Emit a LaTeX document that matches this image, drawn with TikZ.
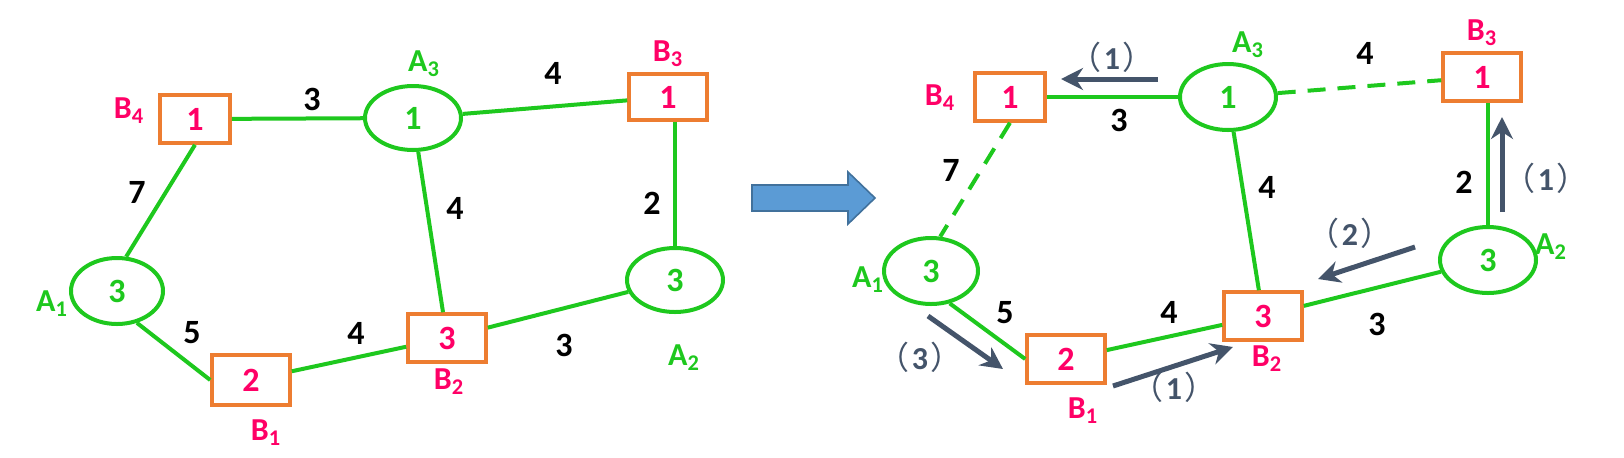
\documentclass[tikz,border=0pt]{standalone}
\usepackage{fontspec}
\setmainfont{Carlito}
\newfontfamily\cjk{Noto Sans CJK SC}
\usepackage{xcolor}
\usetikzlibrary{arrows.meta,shapes.geometric}

\definecolor{nodegreen}{RGB}{30,200,30}
\definecolor{boxorange}{HTML}{ED7D31}
\definecolor{textpink}{HTML}{FF0066}
\definecolor{stepgray}{HTML}{44546A}
\definecolor{arrowblue}{HTML}{5B9BD5}
\definecolor{arrowrim}{HTML}{41719C}

\begin{document}
\begin{tikzpicture}[
  x=0.5pt,y=-0.5pt,
  every node/.style={font=\fontsize{17}{20}\selectfont\bfseries},
  boxnode/.style={draw=boxorange,rectangle,line width=1.8pt,minimum width=39pt,minimum height=24pt,inner sep=0pt,text=textpink},
  ellnode/.style={draw=nodegreen,ellipse,line width=2pt,minimum width=48pt,minimum height=32pt,inner sep=0pt,text=nodegreen},
  alabel/.style={text=nodegreen,font=\fontsize{16}{19}\selectfont\bfseries},
  blabel/.style={text=textpink,font=\fontsize{16}{19}\selectfont\bfseries},
  weight/.style={text=black},
  edge/.style={draw=nodegreen,line width=2pt},
  dashedge/.style={edge,dash pattern=on 9pt off 6pt},
  stepline/.style={-{Stealth[length=11pt,width=11pt]},line width=2.5pt,stepgray},
  steplabel/.style={text=stepgray,font=\fontsize{16}{19}\selectfont\bfseries},
  bigarrow/.style={fill=arrowblue,draw=arrowrim,line width=0.8pt}
]
\useasboundingbox (0,0) rectangle (1624,457);

% left graph
\node[boxnode,minimum width=35pt] (lb4) at (195,119) {1};
\node[ellnode] (la3) at (413,118) {1};
\node[boxnode,minimum height=23pt] (lb3) at (668,97) {1};
\node[ellnode,minimum width=46pt,minimum height=33pt] (la1) at (117,291) {3};
\node[ellnode] (la2) at (675,280) {3};
\node[boxnode] (lb2) at (447,338) {3};
\node[boxnode,minimum height=25pt] (lb1) at (251,380) {2};

\draw[edge] (lb4) -- (la3);
\draw[edge] (la3) -- (lb3);
\draw[edge] (lb3.south -| la2.north) -- (la2.north);
\draw[edge] (la3) -- (lb2);
\draw[edge] (lb4.south) -- (la1.75);
\draw[edge] (la1.-58) -- (lb1.west);
\draw[edge] (lb1) -- (lb2);
\draw[edge] (lb2) -- (la2);

\node[blabel] (tlb4) at (129,111) {B\textsubscript{4}};
\node[alabel] (tla3) at (424,64) {A\textsubscript{3}};
\node[blabel] (tlb3) at (668,54) {B\textsubscript{3}};
\node[alabel] (tla1) at (52,304) {A\textsubscript{1}};
\node[alabel] (tla2) at (684,358) {A\textsubscript{2}};
\node[blabel] (tlb2) at (449,382) {B\textsubscript{2}};
\node[blabel] (tlb1) at (266,433) {B\textsubscript{1}};

\node[weight] (wl1) at (312,99) {3};
\node[weight] (wl2) at (553,73) {4};
\node[weight] (wl3) at (137,192) {7};
\node[weight] (wl4) at (455,208) {4};
\node[weight] (wl5) at (652,203) {2};
\node[weight] (wl6) at (192,333) {5};
\node[weight] (wl7) at (356,333) {4};
\node[weight] (wl8) at (564,345) {3};

% transition arrow
\filldraw[bigarrow] (752,185) -- (848,185) -- (848,172) -- (875,198) -- (848,224) -- (848,211) -- (752,211) -- cycle;

% right graph
\node[boxnode,minimum width=35pt] (rb4) at (1010,97) {1};
\node[ellnode,minimum height=33pt] (ra3) at (1228,97) {1};
\node[boxnode] (rb3) at (1482,77) {1};
\node[ellnode,minimum width=47pt,minimum height=33pt] (ra1) at (931,271) {3};
\node[ellnode,minimum height=33pt] (ra2) at (1488,260) {3};
\node[boxnode] (rb2) at (1263,316) {3};
\node[boxnode] (rb1) at (1066,359) {2};

\draw[edge] (rb4) -- (ra3);
\draw[dashedge] (ra3) -- (rb3);
\draw[edge] (rb3.south -| ra2.north) -- (ra2.north);
\draw[edge] (ra3) -- (rb2);
\draw[dashedge] (rb4.south) -- (ra1.75);
\draw[edge] (ra1.-60) -- (rb1.west);
\draw[edge] (rb1) -- (rb2);
\draw[edge] (rb2) -- (ra2);

\node[blabel] (trb4) at (940,98) {B\textsubscript{4}};
\node[alabel] (tra3) at (1248,45) {A\textsubscript{3}};
\node[blabel] (trb3) at (1482,33) {B\textsubscript{3}};
\node[alabel] (tra1) at (868,280) {A\textsubscript{1}};
\node[alabel] (tra2) at (1551,247) {A\textsubscript{2}};
\node[blabel] (trb2) at (1267,359) {B\textsubscript{2}};
\node[blabel] (trb1) at (1083,411) {B\textsubscript{1}};

\node[weight] (wr1) at (1119,120) {3};
\node[weight] (wr2) at (1365,53) {4};
\node[weight] (wr3) at (951,170) {7};
\node[weight] (wr4) at (1267,187) {4};
\node[weight] (wr5) at (1464,182) {2};
\node[weight] (wr6) at (1005,313) {5};
\node[weight] (wr7) at (1169,312) {4};
\node[weight] (wr8) at (1377,324) {3};

% steps
\coordinate (s1a) at (1158,79);
\coordinate (s1b) at (1061,79);
\coordinate (s2a) at (1502,212);
\coordinate (s2b) at (1502,117);
\coordinate (s3a) at (1415,247);
\coordinate (s3b) at (1318,279);
\coordinate (s4a) at (928,316);
\coordinate (s4b) at (1003,369);
\coordinate (s5a) at (1113,386);
\coordinate (s5b) at (1233,347);
\draw[stepline] (s1a) -- (s1b);
\draw[stepline] (s2a) -- (s2b);
\draw[stepline] (s3a) -- (s3b);
\draw[stepline] (s4a) -- (s4b);
\draw[stepline] (s5a) -- (s5b);

\node[steplabel] (ts1) at (1112,57) {{\cjk\mdseries（}\kern1pt 1\kern1pt{\cjk\mdseries）}};
\node[steplabel] (ts2) at (1546,178) {{\cjk\mdseries（}\kern1pt 1\kern1pt{\cjk\mdseries）}};
\node[steplabel] (ts3) at (1350,233) {{\cjk\mdseries（}\kern1pt 2\kern1pt{\cjk\mdseries）}};
\node[steplabel] (ts4) at (920,357) {{\cjk\mdseries（}\kern1pt 3\kern1pt{\cjk\mdseries）}};
\node[steplabel] (ts5) at (1174,387) {{\cjk\mdseries（}\kern1pt 1\kern1pt{\cjk\mdseries）}};

\end{tikzpicture}
\end{document}
